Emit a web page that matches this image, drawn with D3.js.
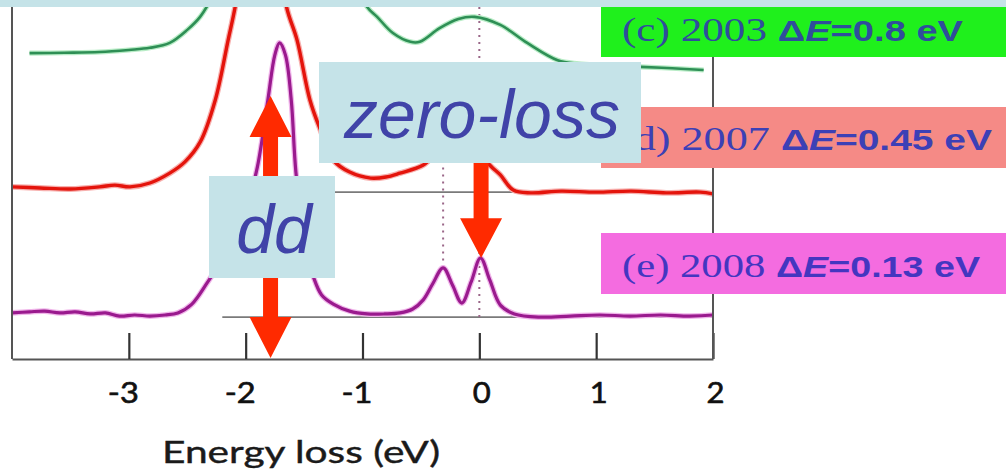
<!DOCTYPE html>
<html>
<head>
<meta charset="utf-8">
<script src="https://cdn.jsdelivr.net/npm/d3@7"></script>
<style>
  body { margin: 0; background: #fff; }
  svg { display: block; }
</style>
</head>
<body>
<div id="chart"></div>
<script>
// energy-loss spectra, three resolutions, stacked with offsets

// x ticks
const xTicks = [-3, -2, -1, 0, 1, 2];

// (c) 2003 - green, [energy, intensity]
const greenSeries = [
    [-3.85, 86.9], [-3.55, 87.0], [-3.25, 87.2], [-3.0, 87.8], [-2.82, 88.4], [-2.65, 89.8],
    [-2.50, 93.5], [-2.39, 97.2], [-2.30, 102], [-2.15, 112], [-1.9, 130], [-1.6, 138],
    [-1.3, 125], [-1.1, 110], [-0.96, 100], [-0.875, 97.2], [-0.74, 92.6], [-0.59, 90.1],
    [-0.51, 90.1], [-0.34, 94.0], [-0.18, 96.6], [-0.04, 97.2], [0.18, 94.9], [0.41, 89.8],
    [0.67, 84.9], [0.85, 83.9], [1.03, 83.5], [1.38, 83.0], [1.65, 82.6], [1.92, 82.1]
];

// (d) 2007 - red
const redSeries = [
    [-4.0, 48.9], [-3.76, 48.6], [-3.50, 48.3], [-3.25, 48.9], [-3.12, 49.4], [-2.99, 48.9],
    [-2.82, 50.0], [-2.65, 52.8], [-2.52, 56.0], [-2.39, 61.6], [-2.26, 73.6], [-2.15, 90.6],
    [-2.09, 100], [-1.98, 122], [-1.87, 132], [-1.75, 122], [-1.65, 100], [-1.56, 90.6],
    [-1.45, 73.6], [-1.36, 65.1], [-1.25, 56.5], [-1.11, 53.1], [-0.93, 51.4], [-0.80, 51.7],
    [-0.68, 52.8], [-0.48, 55.1], [-0.34, 59.4], [-0.14, 62.5], [0.0, 61.4], [0.075, 55.7],
    [0.18, 52.3], [0.29, 48.0], [0.44, 47.2], [0.70, 47.7], [1.0, 47.4], [1.30, 47.7],
    [1.60, 47.2], [1.89, 47.4], [2.0, 46.9]
];

// (e) 2008 - purple
const purpleSeries = [
    [-4.0, 13.1], [-3.85, 13.4], [-3.72, 13.6], [-3.59, 13.1], [-3.46, 13.4], [-3.33, 12.8],
    [-3.20, 13.1], [-3.08, 12.2], [-2.95, 12.5], [-2.82, 12.2], [-2.69, 12.5], [-2.58, 13.1],
    [-2.46, 15.6], [-2.33, 21.6], [-2.18, 29.5], [-2.01, 40.9], [-1.90, 54.5], [-1.81, 73.6],
    [-1.75, 86.4], [-1.71, 89.8], [-1.66, 86.4], [-1.61, 73.6], [-1.57, 53.1], [-1.49, 31.8],
    [-1.42, 23.3], [-1.35, 18.2], [-1.25, 15.6], [-1.11, 13.6], [-0.96, 12.8], [-0.81, 12.8],
    [-0.68, 13.1], [-0.57, 14.2], [-0.48, 16.8], [-0.40, 21.3], [-0.31, 25.9], [-0.23, 21.0],
    [-0.15, 15.9], [-0.07, 21.9], [0.01, 28.7], [0.09, 22.4], [0.18, 15.3], [0.30, 12.8],
    [0.52, 11.9], [0.78, 12.2], [1.03, 12.5], [1.29, 12.2], [1.55, 12.5], [1.80, 12.2], [2.0, 12.5]
];

// reference baselines [start energy, level]
const baselines = [[-1.25, 47.4], [-2.2, 11.9]];

// dotted guides [energy, from, to]
const guides = [[-0.31, 26, 56], [0.0, 11.9, 100]];

// arrows [energy, tail, headBase, tip]
const arrows = [
    [-1.787, 52, 63.1, 74.7],
    [-1.787, 23, 11.9, 0.3],
    [0.015, 55.7, 40, 28.7]
];

const legendLabels = [
    {id: "(c) 2003 ", de: "0.8 eV", fill: "#1ff01c", color: "#2f4d9c"},
    {id: "(d) 2007 ", de: "0.45 eV", fill: "#f58a86", color: "#3c40b6"},
    {id: "(e) 2008 ", de: "0.13 eV", fill: "#f46ce0", color: "#4436c0"}
];

const W = 1006, H = 472;
const margin = {top: 7, left: 12, right: 293, bottom: 113};
const innerW = W - margin.left - margin.right;
const innerH = H - margin.top - margin.bottom;

const svg = d3.select("#chart").append("svg")
    .attr("width", W)
    .attr("height", H);

const g = svg.append("g")
    .attr("transform", "translate(" + margin.left + "," + margin.top + ")");

const x = d3.scaleLinear().domain([-4, 2]).range([0, innerW]);
const y = d3.scaleLinear().domain([0, 100]).range([innerH, 0]);

g.append("clipPath").attr("id", "plotclip")
    .append("rect").attr("width", innerW).attr("height", innerH);

// baselines
g.selectAll(".baseline").data(baselines).enter().append("line")
    .attr("class", "baseline")
    .attr("x1", d => x(d[0])).attr("x2", x(2))
    .attr("y1", d => y(d[1])).attr("y2", d => y(d[1]))
    .attr("stroke", "#7a7a7a").attr("stroke-width", 1.6);

// dotted guides
g.selectAll(".guide").data(guides).enter().append("line")
    .attr("class", "guide")
    .attr("x1", d => x(d[0])).attr("x2", d => x(d[0]))
    .attr("y1", d => y(d[1])).attr("y2", d => y(d[2]))
    .attr("stroke", "#9a6688").attr("stroke-width", 2)
    .attr("stroke-dasharray", "2,5");

const line = d3.line()
    .x(d => x(d[0]))
    .y(d => y(d[1]))
    .curve(d3.curveCatmullRom);

const curves = g.append("g").attr("clip-path", "url(#plotclip)");

const series = [
    {data: greenSeries, color: "#2e8f55", halo: "#b8ecc6", w: 2.6},
    {data: redSeries, color: "#e4140c", halo: "#f7b0ae", w: 3.4},
    {data: purpleSeries, color: "#9a1a8e", halo: "#f0b6ea", w: 3.2}
];

series.forEach(s => {
    curves.append("path")
        .attr("d", line(s.data))
        .attr("fill", "none")
        .attr("stroke", s.halo)
        .attr("stroke-width", s.w + 2.5)
        .attr("stroke-linejoin", "round");
    curves.append("path")
        .attr("d", line(s.data))
        .attr("fill", "none")
        .attr("stroke", s.color)
        .attr("stroke-width", s.w)
        .attr("stroke-linejoin", "round");
});

// axes
const xAxis = d3.axisBottom(x)
    .tickValues(xTicks)
    .tickSizeInner(-26)
    .tickSizeOuter(0)
    .tickFormat(d => d < 0 ? "-" + Math.abs(d) : d);

const axG = g.append("g")
    .attr("transform", "translate(0," + innerH + ")")
    .call(xAxis);
axG.select(".domain").attr("stroke", "#555").attr("stroke-width", 2);
axG.selectAll(".tick line").attr("stroke", "#333").attr("stroke-width", 2.2);
axG.selectAll(".tick text")
    .attr("y", 24)
    .attr("dx", d => d < 0 ? -6 : 2)
    .attr("textLength", d => d < 0 ? 31 : 18)
    .attr("lengthAdjust", "spacingAndGlyphs")
    .attr("fill", "#111")
    .attr("stroke", "#111")
    .attr("stroke-width", 0.6)
    .style("font-family", "Lato, 'Open Sans', sans-serif")
    .style("font-size", "28px");

g.append("line")
    .attr("x1", 0).attr("x2", 0).attr("y1", 0).attr("y2", innerH)
    .attr("stroke", "#555").attr("stroke-width", 2);
g.append("line")
    .attr("x1", innerW).attr("x2", innerW).attr("y1", 0).attr("y2", innerH)
    .attr("stroke", "#555").attr("stroke-width", 2);

svg.append("text")
    .attr("x", 162)
    .attr("y", 463)
    .attr("textLength", 278)
    .attr("lengthAdjust", "spacingAndGlyphs")
    .attr("fill", "#1a1a1a")
    .attr("stroke", "#1a1a1a")
    .attr("stroke-width", 0.4)
    .style("font-family", "Lato, 'Open Sans', sans-serif")
    .style("font-size", "30px")
    .text("Energy loss (eV)");

// top band
svg.append("rect")
    .attr("x", 0).attr("y", 0).attr("width", W).attr("height", margin.top)
    .attr("fill", "#c5e3e8");

// legend boxes
const legY = [7, 107, 233];
const legH = [50, 61, 61];
const legBase = [41, 150, 277];
const legLen = [341, 373, 358];

legendLabels.forEach((d, i) => {
    svg.append("rect")
        .attr("x", 601).attr("y", legY[i])
        .attr("width", W - 601).attr("height", legH[i])
        .attr("fill", d.fill);
    const t = svg.append("text")
        .attr("x", i === 1 ? 619 : 622)
        .attr("y", legBase[i])
        .attr("textLength", legLen[i])
        .attr("lengthAdjust", "spacingAndGlyphs")
        .attr("fill", d.color);
    t.append("tspan").style("font-family", "'Liberation Serif', serif").style("font-size", "34px").text(d.id);
    const sans = "'Liberation Sans', Arial, sans-serif";
    t.append("tspan").style("font-family", sans).style("font-size", "30px").style("font-weight", "bold").text("\u0394");
    t.append("tspan").style("font-family", sans).style("font-size", "30px").style("font-weight", "bold")
        .style("font-style", "italic").text("E");
    t.append("tspan").style("font-family", sans).style("font-size", "30px").style("font-weight", "bold")
        .text("=" + d.de);
});

// arrows
const shaftW = 15, headW = 42;
g.selectAll(".arrow").data(arrows).enter().append("path")
    .attr("class", "arrow")
    .attr("fill", "#ff2a00")
    .attr("d", d => {
        const cx = x(d[0]);
        const t = y(d[1]), b = y(d[2]), tip = y(d[3]);
        return "M" + (cx - shaftW / 2) + "," + t +
            "L" + (cx - shaftW / 2) + "," + b +
            "L" + (cx - headW / 2) + "," + b +
            "L" + cx + "," + tip +
            "L" + (cx + headW / 2) + "," + b +
            "L" + (cx + shaftW / 2) + "," + b +
            "L" + (cx + shaftW / 2) + "," + t + "Z";
    });

// annotation boxes
const notes = [
    {text: "zero-loss", x: 319, y: 62, w: 322, h: 101, base: 138},
    {text: "dd", x: 209, y: 176, w: 126, h: 102, base: 253}
];
notes.forEach(n => {
    svg.append("rect")
        .attr("x", n.x).attr("y", n.y).attr("width", n.w).attr("height", n.h)
        .attr("fill", "#c5e3e8");
    svg.append("text")
        .attr("x", n.x + n.w / 2 + 2)
        .attr("y", n.base)
        .attr("text-anchor", "middle")
        .attr("fill", "#4043a8")
        .style("font-family", "'Liberation Sans', Arial, sans-serif")
        .style("font-style", "italic")
        .style("font-size", "68px")
        .text(n.text);
});
</script>
</body>
</html>
